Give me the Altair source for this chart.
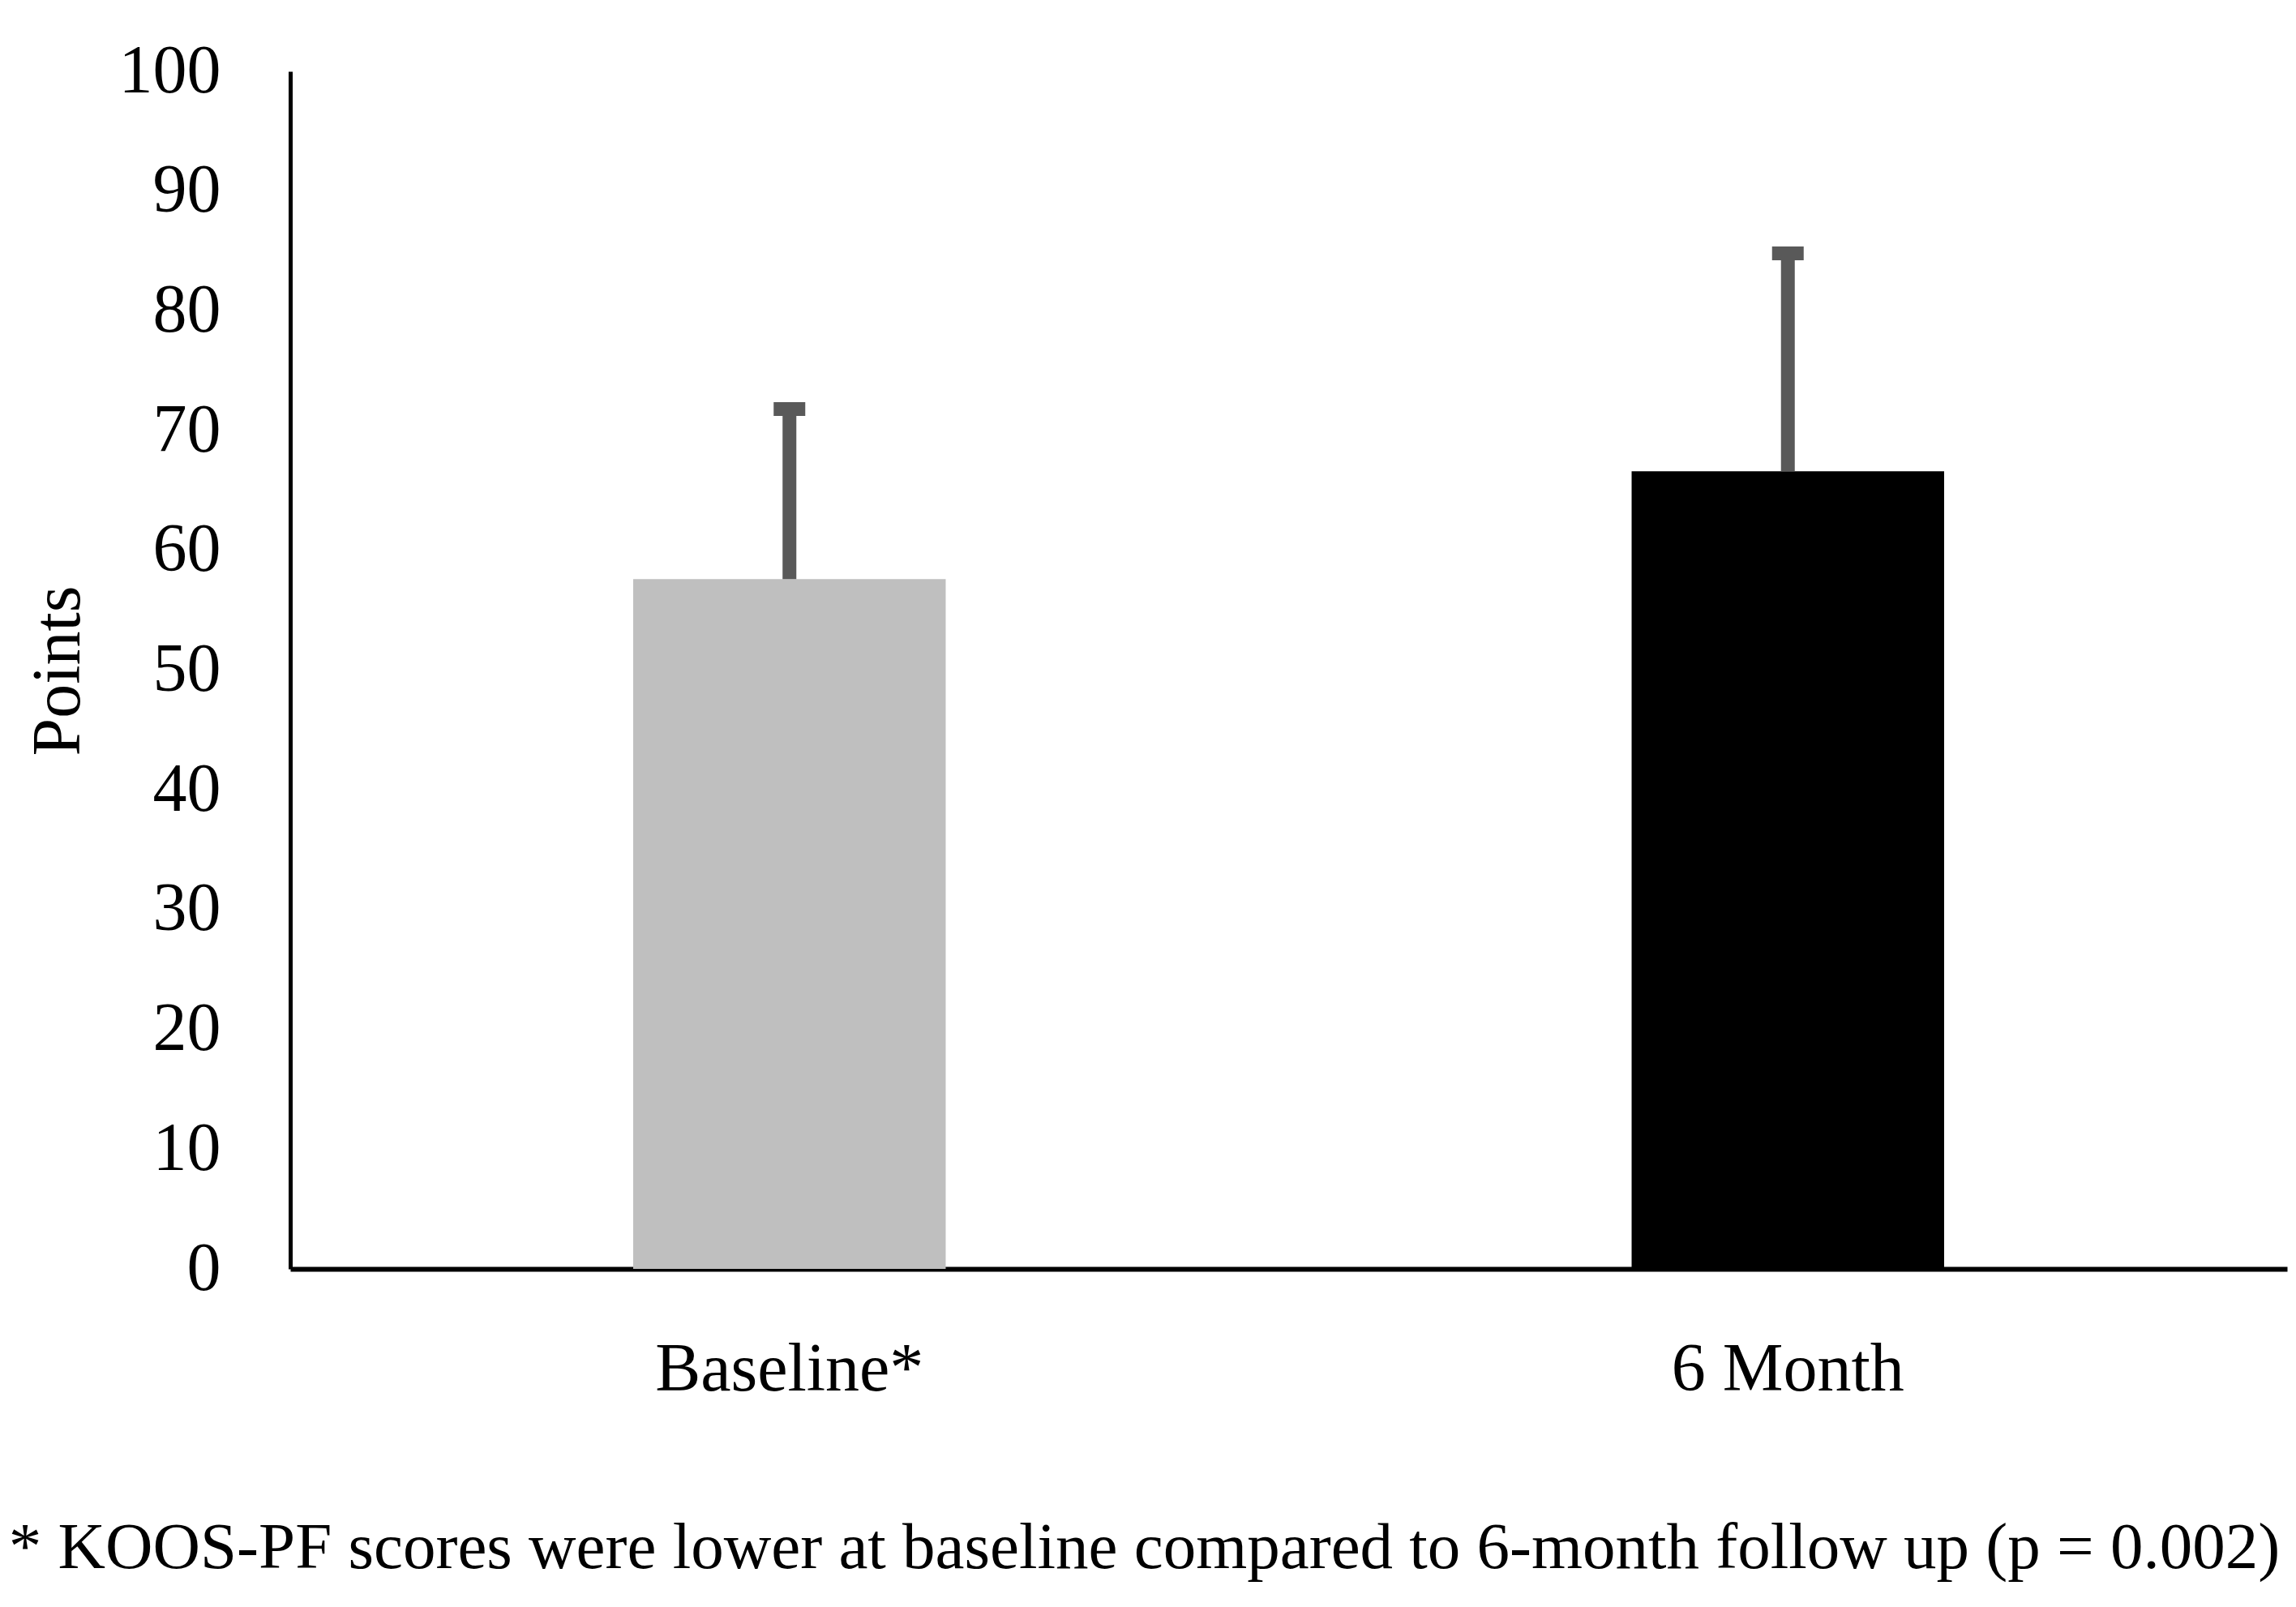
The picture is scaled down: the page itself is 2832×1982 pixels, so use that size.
import altair as alt
import pandas as pd

categories = ["Baseline*", "6 Month"]
means = [57.6, 66.6]
sds = [14.2, 18.2]
bar_colors = ["#BFBFBF", "#000000"]
y_ticks = [0, 10, 20, 30, 40, 50, 60, 70, 80, 90, 100]
footnote = "* KOOS-PF scores were lower at baseline compared to 6-month follow up (p = 0.002)"

df = pd.DataFrame({"cat": categories, "mean": means, "sd": sds})
df["upper"] = df["mean"] + df["sd"]

FONT = "Liberation Serif"
FS = 84
W, H = 2463, 1477

x_enc = alt.X(
    "cat:N",
    sort=categories,
    scale=alt.Scale(paddingInner=0.687, paddingOuter=0.3435),
    axis=alt.Axis(
        title=None, labelAngle=0, ticks=False, tickSize=0, labelPadding=83,
        labelFontSize=FS, labelFont=FONT, labelColor="black", labelLimit=2000,
        domainColor="black", domainWidth=6, grid=False,
    ),
)
y_scale = alt.Scale(domain=[0, 100], nice=False, zero=True)
y_axis = alt.Axis(
    values=y_ticks, grid=False, ticks=False, tickSize=0, labelPadding=86,
    labelFontSize=FS, labelFont=FONT, labelColor="black",
    domainColor="black", domainWidth=5,
    title="Points", titleFont=FONT, titleFontSize=FS, titleFontWeight="normal",
    titleColor="black", titleX=-286, titleY=739, titleBaseline="middle",
    titleAlign="center", titleAngle=270,
)

base = alt.Chart(df)

bars = base.mark_bar().encode(
    x=x_enc,
    y=alt.Y("mean:Q", scale=y_scale, axis=y_axis),
    color=alt.Color("cat:N", scale=alt.Scale(domain=categories, range=bar_colors), legend=None),
)

stems = base.mark_rule(color="#595959", strokeWidth=17, opacity=1).encode(
    x=alt.X("cat:N", sort=categories),
    y=alt.Y("mean:Q"),
    y2="upper:Q",
)

caps = base.mark_tick(color="#595959", thickness=17, size=39, orient="horizontal", opacity=1).encode(
    x=alt.X("cat:N", sort=categories),
    y=alt.Y("upper:Q"),
)

chart = (
    alt.layer(bars, stems, caps)
    .properties(
        width=W,
        height=H,
        padding={"left": 350, "top": 80, "right": 3, "bottom": 412},
        autosize=alt.AutoSizeParams(type="none"),
        background="white",
        title=alt.TitleParams(
            text=footnote, orient="bottom", anchor="middle", frame="group",
            font=FONT, fontSize=81, fontWeight="normal", color="black",
            offset=139, dx=-178, limit=3000,
        ),
    )
    .configure_view(stroke=None)
)

chart.save("out.html", embed_options={"renderer": "svg", "actions": False})
